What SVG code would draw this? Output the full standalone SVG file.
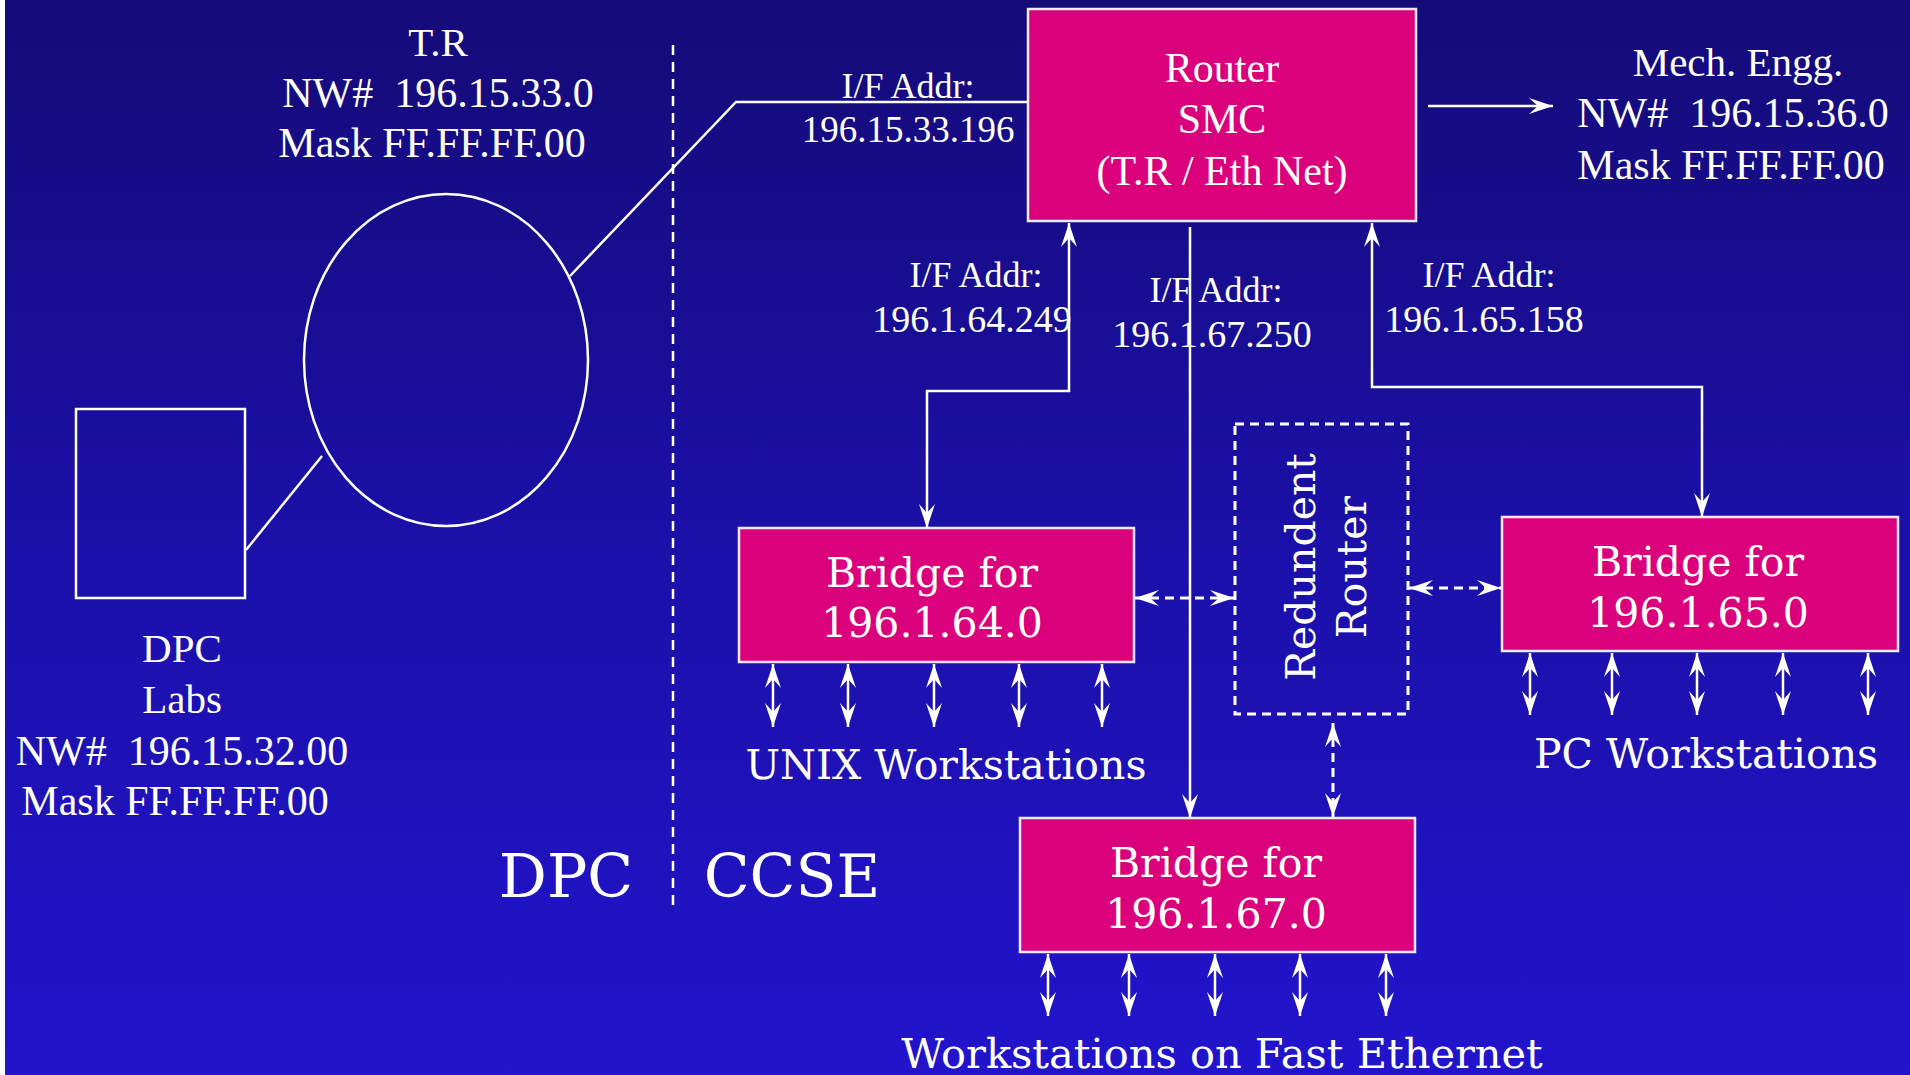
<svg xmlns="http://www.w3.org/2000/svg" width="1910" height="1075" viewBox="0 0 1910 1075">
<style>
.tm{font-family:"Liberation Serif","Times New Roman",serif;fill:#fff;text-anchor:middle;white-space:pre}
.cs{font-family:"DejaVu Serif",serif;fill:#fff;text-anchor:middle;white-space:pre}
.box{fill:#db007c;stroke:#f2eaf6;stroke-width:2.5}
.ln{fill:none;stroke:#fff;stroke-width:2.5}
.dl{fill:none;stroke:#fff;stroke-width:3;stroke-dasharray:9 6}
.two{marker-start:url(#ah);marker-end:url(#ah)}
.one{marker-end:url(#ah)}
</style>
<defs>
<linearGradient id="bg" x1="0" y1="0" x2="0" y2="1">
<stop offset="0" stop-color="#150b78"/>
<stop offset="0.5" stop-color="#1b10a8"/>
<stop offset="1" stop-color="#2214cc"/>
</linearGradient>
<marker id="ah" viewBox="-26 -10 28 20" refX="0" refY="0" markerWidth="28" markerHeight="20" markerUnits="userSpaceOnUse" orient="auto-start-reverse">
<path d="M0,0 L-24,-8 L-15,0 L-24,8 Z" fill="#fff"/>
</marker>
</defs>
<rect x="0" y="0" width="1910" height="1075" fill="url(#bg)"/>
<rect x="0" y="0" width="5" height="1075" fill="#fff"/>

<g id="divider">
<line x1="673" y1="45" x2="673" y2="905" stroke="#fff" stroke-width="2.5" stroke-dasharray="10 7"/>
<text class="cs" x="566" y="897" font-size="60">DPC</text>
<text class="cs" x="792" y="897" font-size="60">CCSE</text>
</g>

<g id="connectors">
<polyline class="ln" points="570,276 736,102 1029,102"/>
<line class="ln" x1="246" y1="550" x2="322" y2="456"/>
<line class="ln one" x1="1428" y1="106" x2="1553" y2="106" stroke-width="3"/>
<path class="ln two" d="M1069,223 L1069,391 L927,391 L927,528"/>
<path class="ln one" d="M1190,227 L1190,818"/>
<path class="ln two" d="M1372,223 L1372,387 L1702,387 L1702,517"/>
<line class="dl two" x1="1135" y1="598" x2="1234" y2="598"/>
<line class="dl two" x1="1409" y1="588" x2="1501" y2="588"/>
<line class="dl two" x1="1333" y1="723" x2="1333" y2="817"/>
<g id="unix-links">
<line class="ln two" x1="773" y1="664" x2="773" y2="727"/>
<line class="ln two" x1="848" y1="664" x2="848" y2="727"/>
<line class="ln two" x1="934" y1="664" x2="934" y2="727"/>
<line class="ln two" x1="1019" y1="664" x2="1019" y2="727"/>
<line class="ln two" x1="1102" y1="664" x2="1102" y2="727"/>
</g>
<g id="pc-links">
<line class="ln two" x1="1530" y1="653" x2="1530" y2="715"/>
<line class="ln two" x1="1612" y1="653" x2="1612" y2="715"/>
<line class="ln two" x1="1697" y1="653" x2="1697" y2="715"/>
<line class="ln two" x1="1783" y1="653" x2="1783" y2="715"/>
<line class="ln two" x1="1868" y1="653" x2="1868" y2="715"/>
</g>
<g id="fast-links">
<line class="ln two" x1="1048" y1="954" x2="1048" y2="1016"/>
<line class="ln two" x1="1129" y1="954" x2="1129" y2="1016"/>
<line class="ln two" x1="1215" y1="954" x2="1215" y2="1016"/>
<line class="ln two" x1="1300" y1="954" x2="1300" y2="1016"/>
<line class="ln two" x1="1386" y1="954" x2="1386" y2="1016"/>
</g>
<g id="if-labels">
<text class="tm" x="908" y="98" font-size="36">I/F Addr:</text>
<text class="tm" x="908" y="142" font-size="37">196.15.33.196</text>
<text class="tm" x="976" y="287" font-size="36">I/F Addr:</text>
<text class="tm" x="972" y="332" font-size="38">196.1.64.249</text>
<text class="tm" x="1216" y="302" font-size="36">I/F Addr:</text>
<text class="tm" x="1212" y="347" font-size="38">196.1.67.250</text>
<text class="tm" x="1489" y="287" font-size="36">I/F Addr:</text>
<text class="tm" x="1484" y="332" font-size="38">196.1.65.158</text>
</g>
</g>

<g id="tr-ring">
<ellipse cx="446" cy="360" rx="142" ry="166" class="ln"/>
<text class="tm" x="438" y="56" font-size="41">T.R</text>
<text class="tm" x="438" y="107" font-size="42">NW#  196.15.33.0</text>
<text class="tm" x="432" y="157" font-size="42">Mask FF.FF.FF.00</text>
</g>

<g id="dpc-labs">
<rect x="76" y="409" width="169" height="189" class="ln"/>
<text class="tm" x="182" y="662" font-size="41">DPC</text>
<text class="tm" x="182" y="713" font-size="41">Labs</text>
<text class="tm" x="182" y="765" font-size="42">NW#  196.15.32.00</text>
<text class="tm" x="175" y="815" font-size="42">Mask FF.FF.FF.00</text>
</g>

<g id="router">
<rect x="1028" y="9" width="388" height="212" class="box"/>
<text class="tm" x="1222" y="82" font-size="42">Router</text>
<text class="tm" x="1222" y="133" font-size="42">SMC</text>
<text class="tm" x="1222" y="185" font-size="42">(T.R / Eth Net)</text>
</g>

<g id="mech-engg">
<text class="tm" x="1738" y="76" font-size="41">Mech. Engg.</text>
<text class="tm" x="1733" y="127" font-size="42">NW#  196.15.36.0</text>
<text class="tm" x="1731" y="179" font-size="42">Mask FF.FF.FF.00</text>
</g>

<g id="bridge-64">
<rect x="739" y="528" width="395" height="134" class="box"/>
<text class="cs" x="932" y="587" font-size="41">Bridge for</text>
<text class="cs" x="932" y="637" font-size="41">196.1.64.0</text>
</g>
<g id="unix-label">
<text class="cs" x="946" y="779" font-size="41">UNIX Workstations</text>
</g>

<g id="bridge-65">
<rect x="1502" y="517" width="396" height="134" class="box"/>
<text class="cs" x="1698" y="576" font-size="41">Bridge for</text>
<text class="cs" x="1698" y="627" font-size="41">196.1.65.0</text>
</g>
<g id="pc-label">
<text class="cs" x="1706" y="768" font-size="41">PC Workstations</text>
</g>

<g id="bridge-67">
<rect x="1020" y="818" width="395" height="134" class="box"/>
<text class="cs" x="1216" y="877" font-size="41">Bridge for</text>
<text class="cs" x="1216" y="928" font-size="41">196.1.67.0</text>
</g>
<g id="fast-label">
<text class="cs" x="1222" y="1068" font-size="41.5">Workstations on Fast Ethernet</text>
</g>

<g id="redundant-router">
<rect x="1235" y="424" width="173" height="290" class="dl"/>
<text class="cs" transform="translate(1315,567) rotate(-90)" font-size="41">Redundent</text>
<text class="cs" transform="translate(1366,567) rotate(-90)" font-size="41">Router</text>
</g>
</svg>
